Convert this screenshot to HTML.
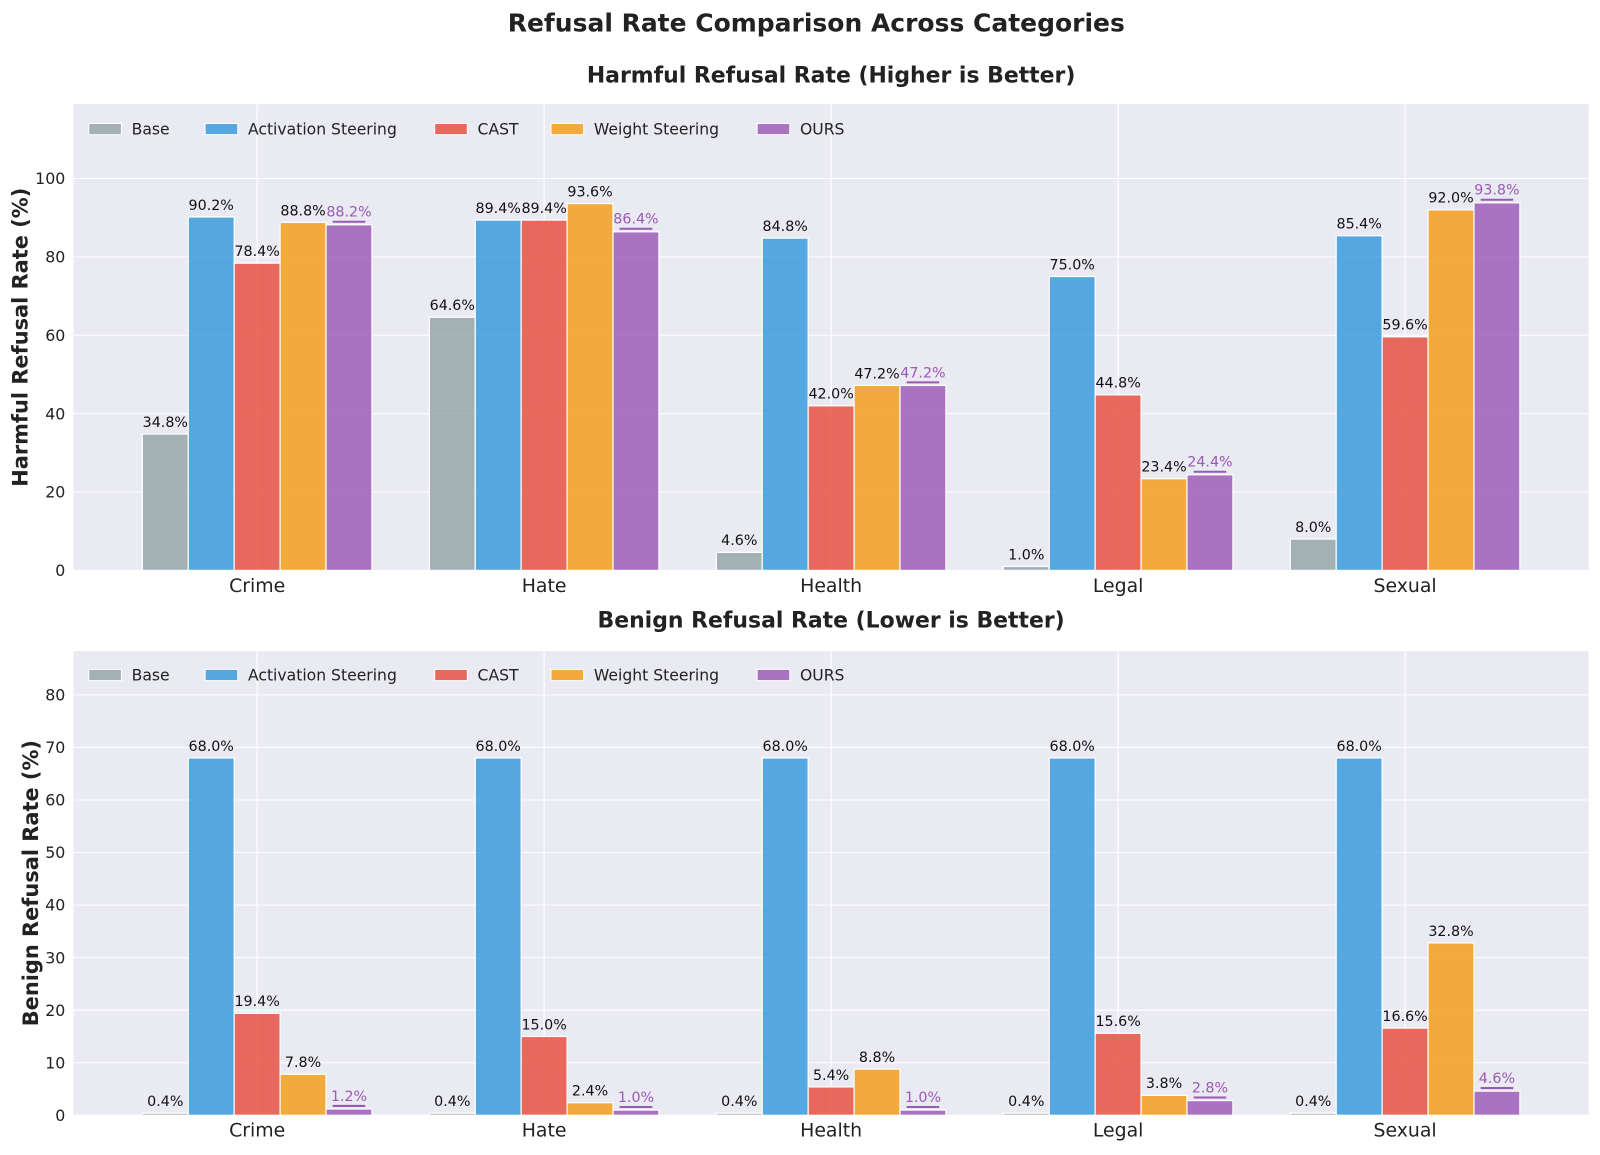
<!DOCTYPE html>
<html><head><meta charset="utf-8"><style>
body{margin:0;background:#fff;font-family:"DejaVu Sans","Liberation Sans",sans-serif}
svg text{font-family:"DejaVu Sans","Liberation Sans",sans-serif}
</style></head><body>
<svg width="1600" height="1151" xmlns="http://www.w3.org/2000/svg">
<g id="c" transform="scale(1.0204)">
<text x="800" y="31" text-anchor="middle" font-size="24.5" font-weight="bold" fill="#222">Refusal Rate Comparison Across Categories</text>
</g>
</svg>
<script>
const categories=["Crime","Hate","Health","Legal","Sexual"];
const seriesNames=["Base","Activation Steering","CAST","Weight Steering","OURS"];
const harmfulBase=[34.8,64.6,4.6,1.0,8.0];
const harmfulAS=[90.2,89.4,84.8,75.0,85.4];
const harmfulCAST=[78.4,89.4,42.0,44.8,59.6];
const harmfulWS=[88.8,93.6,47.2,23.4,92.0];
const harmfulOURS=[88.2,86.4,47.2,24.4,93.8];
const benignBase=[0.4,0.4,0.4,0.4,0.4];
const benignAS=[68.0,68.0,68.0,68.0,68.0];
const benignCAST=[19.4,15.0,5.4,15.6,16.6];
const benignWS=[7.8,2.4,8.8,3.8,32.8];
const benignOURS=[1.2,1.0,1.0,2.8,4.6];
const harmfulTicks=[0,20,40,60,80,100];
const benignTicks=[0,10,20,30,40,50,60,70,80];
const colors=["#95a5a6","#3498db","#e74c3c","#f39c12","#9b59b6"];
const NS="http://www.w3.org/2000/svg";
const svg=document.getElementById("c");
function mk(t,a,p){const e=document.createElementNS(NS,t);for(const k in a)e.setAttribute(k,a[k]);(p||svg).appendChild(e);return e;}
function panel(cfg){
 const g=mk("g",{});
 
 
 const L=72,R=1557,T=cfg.top,B=cfg.bottom;
 const xs=i=>L+(i-(-0.64))/(5.28)*(R-L);
 const ys=v=>B-v/cfg.ymax*(B-T);
 mk("rect",{x:L,y:T,width:R-L,height:B-T,fill:"#eaeaf2"},g);
 cfg.ticks.forEach(t=>{
  mk("line",{x1:L,x2:R,y1:ys(t),y2:ys(t),stroke:"#fff","stroke-width":1},g);
  const tx=mk("text",{x:L-8,y:ys(t)+5.5,"text-anchor":"end","font-size":15.5,fill:"#222"},g);tx.textContent=t;
  
  
 });
 categories.forEach((c,i)=>{
  mk("line",{x1:xs(i),x2:xs(i),y1:T,y2:B,stroke:"#fff","stroke-width":1.2},g);
  const tx=mk("text",{x:xs(i),y:B+21,"text-anchor":"middle","font-size":18.5,fill:"#222"},g);tx.textContent=c;
  
  
 });
 const bw=(xs(1)-xs(0))*0.16;
 cfg.data.forEach((arr,s)=>{
  arr.forEach((v,i)=>{
   const cx=xs(i)+(s-2)*bw;
   const r=mk("rect",{x:cx-bw/2,y:ys(v),width:bw,height:B-ys(v),fill:colors[s],"fill-opacity":0.82,stroke:"#fff","stroke-width":1.2},g);
   
   
   const purple=s===4;
   const tx=mk("text",{x:cx,y:ys(v)-(purple?8:7),"text-anchor":"middle","font-size":14,fill:purple?"#9b59b6":"#111"},g);
   tx.textContent=v.toFixed(1)+"%";
   
   
   if(purple){const ln=mk("line",{x1:cx-16,x2:cx+16,y1:ys(v)-3,y2:ys(v)-3,stroke:"#9b59b6","stroke-width":2},g);
    
    }
  });
 });
 const lx=[87,201,426,540,742];
 seriesNames.forEach((n,s)=>{
  const lg=mk("g",{},g);
  
  
  mk("rect",{x:lx[s],y:cfg.legY-5,width:32,height:11,fill:colors[s],"fill-opacity":0.82,stroke:"#fff","stroke-width":1},lg);
  const tx=mk("text",{x:lx[s]+42,y:cfg.legY+6,"font-size":15.3,fill:"#222"},lg);tx.textContent=n;
 });
 const st=mk("text",{x:(L+R)/2,y:cfg.titleY,"text-anchor":"middle","font-size":21.5,"font-weight":"bold",fill:"#222"},g);st.textContent=cfg.title;
 
 
 const yl=mk("text",{x:0,y:0,transform:`translate(${cfg.ylX},${(T+B)/2}) rotate(-90)`,"text-anchor":"middle","font-size":20.5,"font-weight":"bold",fill:"#222"},g);yl.textContent=cfg.ylabel;
 
 
}
panel({name:"harmful-panel",top:102,bottom:559,ymax:119,ticks:harmfulTicks,data:[harmfulBase,harmfulAS,harmfulCAST,harmfulWS,harmfulOURS],legY:126,title:"Harmful Refusal Rate (Higher is Better)",titleY:81,ylabel:"Harmful Refusal Rate (%)",ylX:27});
panel({name:"benign-panel",top:638,bottom:1093,ymax:88.35,ticks:benignTicks,data:[benignBase,benignAS,benignCAST,benignWS,benignOURS],legY:661,title:"Benign Refusal Rate (Lower is Better)",titleY:615,ylabel:"Benign Refusal Rate (%)",ylX:37});
</script>
</body></html>
